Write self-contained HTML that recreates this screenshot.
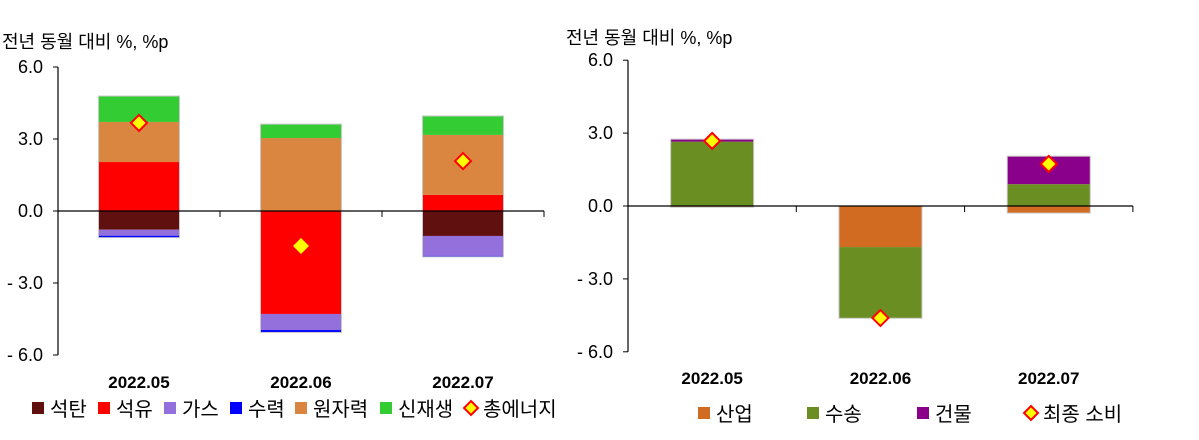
<!DOCTYPE html>
<html><head><meta charset="utf-8"><style>
body{margin:0;background:#fff;width:1199px;height:440px;overflow:hidden}
svg{display:block;font-family:"Liberation Sans","Noto Sans CJK KR",sans-serif}
</style></head><body>
<svg id="c" width="1199" height="440"></svg>
<script>
const categories=["2022.05","2022.06","2022.07"];
const leftSeriesNames=["석탄","석유","가스","수력","원자력","신재생"];
const leftCoal=[-0.78,0,-1.04];
const leftOil=[2.04,-4.29,0.67];
const leftGas=[-0.25,-0.67,-0.83];
const leftHydro=[-0.08,-0.1,-0.04];
const leftNuclear=[1.67,3.04,2.5];
const leftRenew=[1.08,0.58,0.79];
const leftTotal=[3.67,-1.46,2.08];
const rightSeriesNames=["산업","수송","건물"];
const rightIndustry=[-0.05,-1.69,-0.29];
const rightTransport=[2.65,-2.93,0.9];
const rightBuilding=[0.1,0,1.15];
const rightTotal=[2.68,-4.61,1.73];
const yTicks=[6,3,0,-3,-6];
const yTickLabels=["6.0","3.0","0.0","- 3.0","- 6.0"];

const NS="http://www.w3.org/2000/svg";
const svg=document.getElementById('c');
function mk(t,a,p){const e=document.createElementNS(NS,t);for(const k in a)e.setAttribute(k,a[k]);(p||svg).appendChild(e);return e;}

function drawChart(cfg){
  const g=mk('g',{});
  
  
  const y=v=>cfg.y0-v*cfg.scale;
  const xc=i=>cfg.ax+cfg.cw*(i+0.5);
  const t=mk('text',{x:cfg.titleX,y:cfg.titleY,'font-size':18,fill:'#000'},g);
  t.textContent="전년 동월 대비 %, %p";
  
  
  categories.forEach((c,i)=>{
    let pos=0,neg=0;
    cfg.series.forEach(s=>{
      const v=s.vals[i]; if(!v)return;
      let top,bot;
      if(v>0){top=pos+v;bot=pos;pos+=v;}else{top=neg;bot=neg+v;neg+=v;}
      const r=mk('rect',{x:xc(i)-cfg.bw/2,y:y(top),width:cfg.bw,height:y(bot)-y(top),fill:s.color},g);
      
      
    });
    const o=mk('rect',{x:xc(i)-cfg.bw/2,y:y(pos),width:cfg.bw,height:y(neg)-y(pos),fill:'none',stroke:'#c8c8c8','stroke-width':1},g);
    
    
  });
  const ya=mk('line',{x1:cfg.ax,y1:y(6),x2:cfg.ax,y2:y(-6),stroke:'#000','stroke-width':1.2},g);
  
  
  yTicks.forEach((v,k)=>{
    mk('line',{x1:cfg.ax-5,y1:y(v),x2:cfg.ax,y2:y(v),stroke:'#000'},g);
    const tl=mk('text',{x:cfg.ax-15,y:y(v)+6,'font-size':18,'text-anchor':'end',fill:'#000'},g);
    tl.textContent=yTickLabels[k];
    
    
  });
  const xa=mk('line',{x1:cfg.ax,y1:y(0),x2:cfg.ax+cfg.cw*3,y2:y(0),stroke:'#000','stroke-width':1.2},g);
  
  
  for(let i=1;i<=3;i++)mk('line',{x1:cfg.ax+cfg.cw*i,y1:y(0),x2:cfg.ax+cfg.cw*i,y2:y(0)+6,stroke:'#000'},g);
  categories.forEach((c,i)=>{
    const tl=mk('text',{x:xc(i),y:cfg.catY,'font-size':17,'font-weight':'bold','text-anchor':'middle',fill:'#000'},g);
    tl.textContent=c;
    
    
  });
  cfg.total.forEach((v,i)=>{
    const cx=xc(i),cy=y(v),r=cfg.dr;
    const d=mk('polygon',{points:`${cx},${cy-r} ${cx+r},${cy} ${cx},${cy+r} ${cx-r},${cy}`,fill:'#ffff00',stroke:cfg.totalStroke[i]?'#ff0000':'none','stroke-width':2},g);
    
    
  });
  cfg.legend.forEach(L=>{
    const lg=mk('g',{},g);
    
    
    if(L.diamond){
      const cx=L.x+6,cy=cfg.legY-7;
      mk('polygon',{points:`${cx},${cy-7} ${cx+7},${cy} ${cx},${cy+7} ${cx-7},${cy}`,fill:'#ffff00',stroke:'#ff0000','stroke-width':2},lg);
    } else mk('rect',{x:L.x,y:cfg.legY-13,width:12,height:12,fill:L.color},lg);
    const tx=mk('text',{x:L.x+18,y:cfg.legY+1,'font-size':20,fill:'#000'},lg);
    tx.textContent=L.label;
  });
}

drawChart({name:'left-chart-energy-source',ax:58,y0:211,scale:24,cw:162,bw:81,catY:388,titleX:2,titleY:48,dr:8,
  series:[
    {key:'coal',vals:leftCoal,color:'#611010'},
    {key:'oil',vals:leftOil,color:'#ff0000'},
    {key:'gas',vals:leftGas,color:'#9370db'},
    {key:'hydro',vals:leftHydro,color:'#0000ff'},
    {key:'nuclear',vals:leftNuclear,color:'#db8640'},
    {key:'renewable',vals:leftRenew,color:'#33cc33'}],
  total:leftTotal,totalStroke:[true,false,true],legY:415,
  legend:[
    {key:'coal',x:32,color:'#611010',label:leftSeriesNames[0]},
    {key:'oil',x:98,color:'#ff0000',label:leftSeriesNames[1]},
    {key:'gas',x:164,color:'#9370db',label:leftSeriesNames[2]},
    {key:'hydro',x:230,color:'#0000ff',label:leftSeriesNames[3]},
    {key:'nuclear',x:295,color:'#db8640',label:leftSeriesNames[4]},
    {key:'renewable',x:380,color:'#33cc33',label:leftSeriesNames[5]},
    {key:'total-energy',x:465,diamond:true,label:'총에너지'}]});

drawChart({name:'right-chart-sector',ax:628,y0:206,scale:24.3,cw:168.3,bw:83,catY:384,titleX:566,titleY:44,dr:8,
  series:[
    {key:'industry',vals:rightIndustry,color:'#d26b22'},
    {key:'transport',vals:rightTransport,color:'#6b8e23'},
    {key:'building',vals:rightBuilding,color:'#8b008b'}],
  total:rightTotal,totalStroke:[true,true,true],legY:420,
  legend:[
    {key:'industry',x:698,color:'#d26b22',label:rightSeriesNames[0]},
    {key:'transport',x:807,color:'#6b8e23',label:rightSeriesNames[1]},
    {key:'building',x:917,color:'#8b008b',label:rightSeriesNames[2]},
    {key:'final-consumption',x:1025,diamond:true,label:'최종 소비'}]});
</script>
</body></html>
